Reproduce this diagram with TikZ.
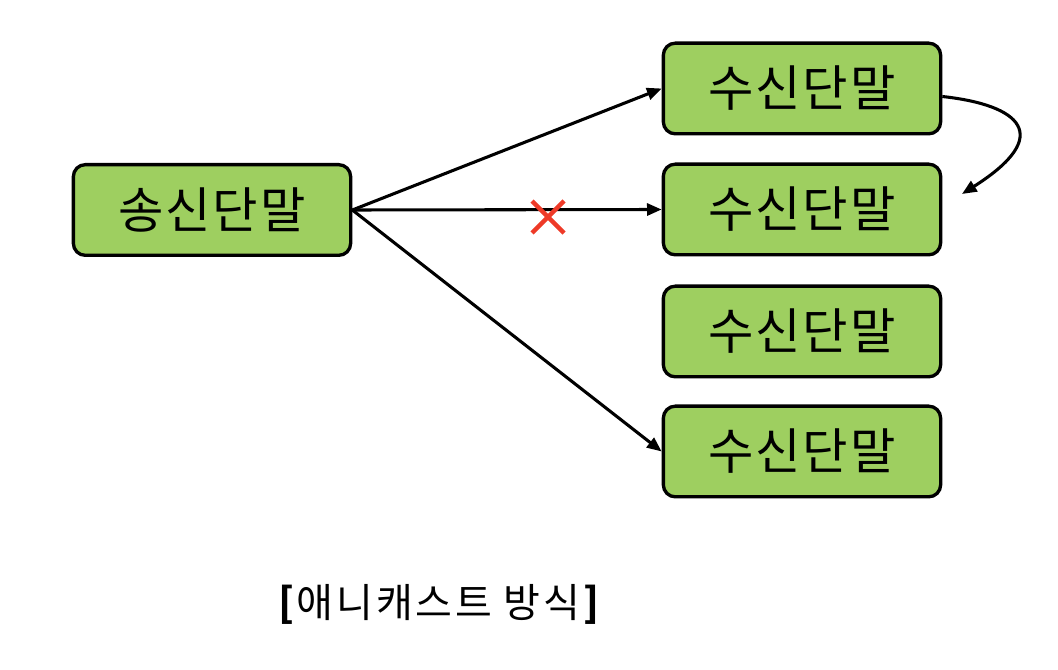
\documentclass[tikz,border=0pt]{standalone}
\usepackage{fontspec}
\setmainfont{Noto Sans CJK KR}
\usetikzlibrary{arrows.meta}
\definecolor{boxgreen}{RGB}{158,207,96}
\definecolor{xred}{RGB}{238,58,40}
\begin{document}
\begin{tikzpicture}[x=0.75pt,y=-0.75pt,
  term/.style={draw=black,line width=2.5pt,fill=boxgreen,rounded corners=9pt,
    minimum width=208pt,minimum height=68pt,inner sep=0pt,
    font=\fontsize{37}{40}\selectfont\addfontfeature{LetterSpace=4}},
  conn/.style={line width=2.3pt,-{Triangle[length=11pt,width=9pt]}},
  cross/.style={xred,line width=3.2pt}]
\useasboundingbox (0,0) rectangle (1058,670);
\node[term] (s) at (212,210) {송신단말};
\node[term] (r1) at (802,88.5) {수신단말};
\node[term] (r2) at (802,209.5) {수신단말};
\node[term] (r3) at (802,331.5) {수신단말};
\node[term] (r4) at (802,451.5) {수신단말};
\draw[conn] (s.east) -- (r1.west);
\draw[conn] (s.east) -- (r2.west);
\draw[conn] (s.east) -- (r4.west);
\coordinate (xc) at (548,217);
\draw[cross] ([shift={(-16,-16)}]xc) -- ([shift={(16,16)}]xc);
\draw[cross] ([shift={(-16,16)}]xc) -- ([shift={(16,-16)}]xc);
\coordinate (cend) at (962,194);
\draw[conn] ([yshift=-6]r1.east) .. controls (1020,105) and (1055,135) .. (cend);
\node[font=\fontsize{30}{33}\selectfont\addfontfeature{LetterSpace=7}] (cap) at (440,604) {\textbf{[}애니캐스트 방식\textbf{]}};
\end{tikzpicture}
\end{document}
